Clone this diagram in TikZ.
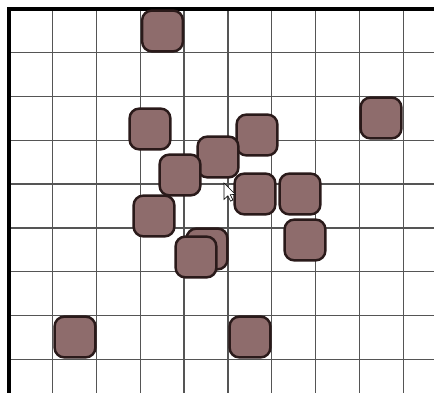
\documentclass[tikz,border=0pt]{standalone}
\usepackage{tikz}
\definecolor{blkfill}{HTML}{8E6C6C}
\definecolor{blkedge}{HTML}{2A1A1A}
\definecolor{gridgray}{HTML}{555555}
\begin{document}
\begin{tikzpicture}[
  blk/.style={rectangle, draw=blkedge, fill=blkfill, line width=1.6pt,
              rounded corners=0.22cm, minimum width=0.93cm, minimum height=0.93cm,
              inner sep=0pt},
  gridln/.style={draw=gridgray, line width=0.9pt},
  frame/.style={draw=black, line width=2pt},
  cur/.style={draw=black, fill=white, line width=0.4pt, line join=miter}]
\useasboundingbox[fill=white] (-0.205,0.205) rectangle (9.703,-8.767);

% ---- board -------------------------------------------------------------
\draw[gridln] (0,-8.77) grid (9.71,0);
\draw[frame] (0,-8.77) -- (0,0) -- (9.71,0);

% ---- blocks ------------------------------------------------------------
\foreach \x/\y [count=\i] in {3.505/-0.502, 3.219/-2.740, 5.662/-2.877,
    4.772/-3.379, 3.904/-3.790, 8.493/-2.489, 5.616/-4.224, 6.644/-4.224,
    6.758/-5.274, 3.311/-4.726, 4.521/-5.479, 4.269/-5.662,
    1.507/-7.489, 5.502/-7.489}
  \node[blk] (b\i) at (\x,\y) {};

% ---- pointer -----------------------------------------------------------
\draw[cur, shift={(4.909,-3.973)}, scale=0.34]
  (0,0) -- (0,-1.1) -- (0.26,-0.86) -- (0.44,-1.22) -- (0.6,-1.14)
  -- (0.42,-0.79) -- (0.76,-0.76) -- cycle;
\end{tikzpicture}
\end{document}
